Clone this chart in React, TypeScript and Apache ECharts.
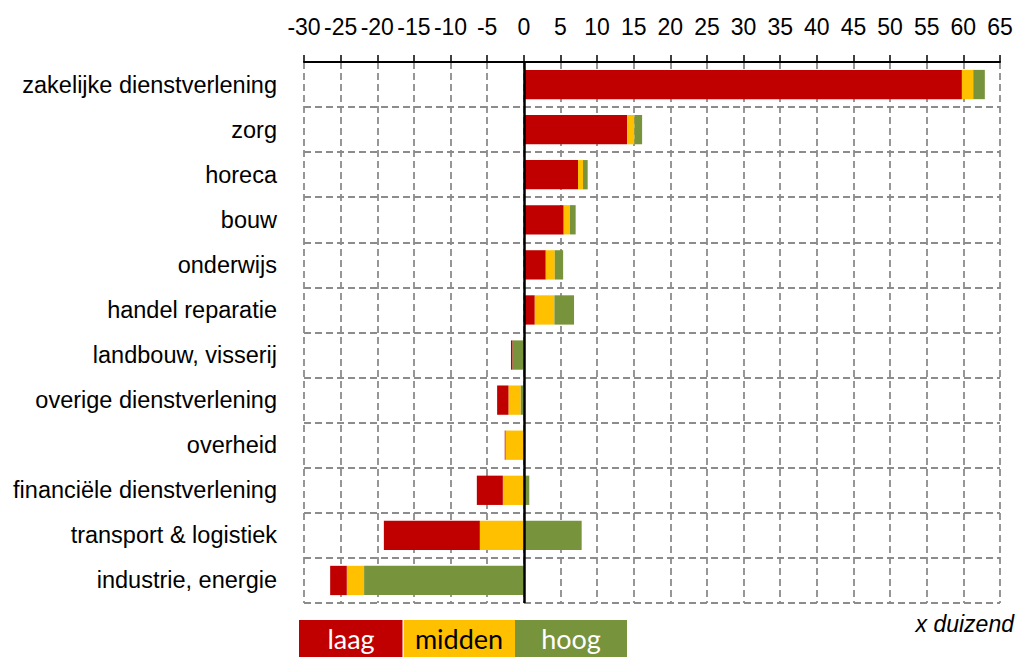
import React, { useEffect, useRef } from "react";
import * as echarts from "echarts";

const categories = [
  "zakelijke dienstverlening",
  "zorg",
  "horeca",
  "bouw",
  "onderwijs",
  "handel reparatie",
  "landbouw, visserij",
  "overige dienstverlening",
  "overheid",
  "financiële dienstverlening",
  "transport & logistiek",
  "industrie, energie",
];

const laag = [59.8, 14.1, 7.4, 5.45, 3.0, 1.5, -0.2, -1.55, -0.1, -3.55, -13.1, -2.27];
const midden = [1.55, 1.0, 0.68, 0.86, 1.23, 2.68, 0, -1.64, -2.5, -2.86, -6.0, -2.36];
const hoog = [1.58, 1.05, 0.64, 0.77, 1.14, 2.68, -1.55, -0.45, 0, 0.75, 7.9, -21.8];

const legendItems = ["laag", "midden", "hoog"];
const unitLabel = "x duizend";

const COLORS: Record<string, string> = {
  laag: "#C00000",
  midden: "#FFC000",
  hoog: "#77933C",
};

const pos = (arr: number[]) => arr.map((v) => (v > 0 ? v : 0));
const neg = (arr: number[]) => arr.map((v) => (v < 0 ? v : 0));

export default function App() {
  const ref = useRef<HTMLDivElement>(null);
  useEffect(() => {
    if (!ref.current) return;
    const chart = echarts.init(ref.current, undefined, { renderer: "svg" });
    const font = "'Liberation Sans', Arial, sans-serif";
    const mk = (name: string, data: number[], extra: any = {}) => ({
      name,
      type: "bar",
      stack: "total",
      data,
      barCategoryGap: "35%",
      itemStyle: { color: COLORS[name] },
      silent: true,
      ...extra,
    });
    const legendWidths = [104, 112, 112];
    let lx = 299;
    const legendGraphics: any[] = [];
    legendItems.forEach((name, i) => {
      legendGraphics.push({
        type: "rect",
        shape: { x: lx, y: 620, width: legendWidths[i], height: 42 },
        style: { fill: COLORS[name] },
      });
      legendGraphics.push({
        type: "text",
        x: lx + legendWidths[i] / 2,
        y: 638,
        style: {
          text: name,
          fill: name === "midden" ? "#000000" : "#ffffff",
          font: "27px Lato, 'Open Sans', sans-serif",
          align: "center",
          verticalAlign: "middle",
        },
      });
      lx += legendWidths[i];
    });
    legendGraphics.push({
      type: "rect",
      shape: { x: 402.5, y: 620, width: 1.2, height: 42 },
      style: { fill: "#ffffff" },
    });
    legendGraphics.push({
      type: "text",
      x: 1014,
      y: 624,
      style: {
        text: unitLabel,
        fill: "#000000",
        font: "italic 23px 'Liberation Sans', Arial, sans-serif",
        align: "right",
        verticalAlign: "middle",
      },
    });

    chart.setOption({
      animation: false,
      grid: { left: 304, right: 16, top: 62, bottom: 54, containLabel: false },
      xAxis: {
        type: "value",
        position: "top",
        min: -30,
        max: 65,
        interval: 5,
        axisLine: { show: true, onZero: false, lineStyle: { color: "#000000", width: 2 } },
        axisTick: { show: true, length: 7, lineStyle: { color: "#000000", width: 1.5 } },
        axisLabel: { color: "#000000", fontSize: 23, fontFamily: font, margin: 24 },
        splitLine: {
          show: true,
          lineStyle: { color: "#8c8c8c", width: 1.8, type: [7, 4] },
        },
      },
      yAxis: {
        type: "category",
        data: categories,
        inverse: true,
        axisLine: { show: false },
        axisTick: { show: false },
        axisLabel: { color: "#000000", fontSize: 23.5, fontFamily: font, margin: 27 },
        splitLine: {
          show: true,
          lineStyle: { color: "#8c8c8c", width: 1.8, type: [7, 4] },
        },
      },
      series: [
        mk("laag", pos(laag)),
        mk("midden", pos(midden)),
        mk("hoog", pos(hoog)),
        mk("hoog", neg(hoog)),
        mk("midden", neg(midden)),
        mk("laag", neg(laag), {
          markLine: {
            silent: true,
            symbol: ["none", "none"],
            label: { show: false },
            lineStyle: { color: "#000000", width: 2.5, type: "solid" },
            data: [{ xAxis: 0 }],
            z: 10,
          },
        }),
      ],
      graphic: legendGraphics,
    });
    return () => chart.dispose();
  }, []);
  return (
    <div
      ref={ref}
      style={{ position: "absolute", left: 0, top: 0, width: 1016, height: 657 }}
    />
  );
}
